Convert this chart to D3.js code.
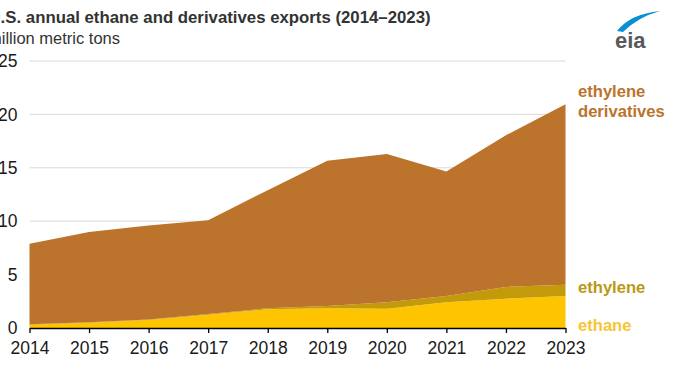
<!DOCTYPE html>
<html>
<head>
<meta charset="utf-8">
<script src="https://cdn.jsdelivr.net/npm/d3@7"></script>
<style>
  body { margin: 0; background: #fff; }
  svg { display: block; font-family: "Liberation Sans", Arial, sans-serif; }
</style>
</head>
<body>
<div id="chart"></div>
<script>
// values, million metric tons
const years = [2014, 2015, 2016, 2017, 2018, 2019, 2020, 2021, 2022, 2023];
const ethane = [0.3, 0.5, 0.75, 1.25, 1.75, 1.85, 1.8, 2.4, 2.75, 3.0];
const ethylene = [0.05, 0.05, 0.05, 0.05, 0.1, 0.2, 0.6, 0.6, 1.1, 1.05];
const derivatives = [7.55, 8.45, 8.8, 8.8, 11.05, 13.6, 13.9, 11.65, 14.2, 16.9];
const yTicks = [0, 5, 10, 15, 20, 25];

const seriesNames = ["ethane", "ethylene", "derivatives"];
const colors = { ethane: "#fec400", ethylene: "#c39a0a", derivatives: "#bc732c" };

const w = 678, h = 371;
const svg = d3.select("#chart").append("svg").attr("width", w).attr("height", h);

const x = d3.scaleLinear().domain([2014, 2023]).range([29.5, 565.5]);
const y = d3.scaleLinear().domain([0, 25]).range([328, 61]);

const rows = years.map((yr, i) => ({
    year: yr, ethane: ethane[i], ethylene: ethylene[i], derivatives: derivatives[i]
}));
const stacked = d3.stack().keys(seriesNames)(rows);

// gridlines
svg.append("g")
    .selectAll("line")
    .data(yTicks.filter(d => d > 0))
    .enter()
    .append("line")
    .attr("x1", x(2014))
    .attr("x2", x(2023))
    .attr("y1", d => y(d))
    .attr("y2", d => y(d))
    .attr("stroke", "#d9d9d9")
    .attr("stroke-width", 1);

const area = d3.area()
    .x(d => x(d.data.year))
    .y0(d => y(d[0]))
    .y1(d => y(d[1]));

svg.append("g")
    .selectAll("path")
    .data(stacked)
    .enter()
    .append("path")
    .attr("d", area)
    .attr("fill", d => colors[d.key]);

// x axis
const xAxis = svg.append("g")
    .attr("transform", `translate(0,${y(0)})`)
    .call(d3.axisBottom(x).tickValues(years).tickFormat(d3.format("d")).tickSize(5).tickSizeOuter(0));
xAxis.select(".domain").attr("stroke", "#000").attr("stroke-width", 1.3);
xAxis.selectAll(".tick line").attr("stroke", "#000").attr("stroke-width", 1.3);
xAxis.selectAll(".tick text")
    .attr("dy", "0.71em")
    .attr("y", 14)
    .attr("fill", "#1a1a1a")
    .style("font-size", "17.5px")
    .style("font-family", "'Liberation Sans', Arial, sans-serif");

// y axis labels
const yAxis = svg.append("g")
    .attr("transform", "translate(29.5,0)")
    .call(d3.axisLeft(y).tickValues(yTicks).tickSize(0).tickPadding(12));
yAxis.select(".domain").remove();
yAxis.selectAll(".tick text")
    .attr("fill", "#1a1a1a")
    .style("font-size", "17.5px")
    .style("font-family", "'Liberation Sans', Arial, sans-serif");

// title and unit (left edge is cropped in the original)
svg.append("text")
    .attr("x", -11.5)
    .attr("y", 23)
    .attr("fill", "#333")
    .style("font-size", "16.8px")
    .style("font-weight", "bold")
    .text("U.S. annual ethane and derivatives exports (2014\u20132023)");

svg.append("text")
    .attr("x", -12)
    .attr("y", 44)
    .attr("fill", "#333")
    .style("font-size", "16.5px")
    .text("million metric tons");

// series labels
const lab = svg.append("g")
    .style("font-size", "16.6px")
    .style("font-weight", "bold");
lab.append("text").attr("x", 578).attr("y", 97).attr("fill", "#bc732c").text("ethylene");
lab.append("text").attr("x", 578).attr("y", 117).attr("fill", "#bc732c").text("derivatives");
lab.append("text").attr("x", 578).attr("y", 293).attr("fill", "#b89a14").text("ethylene");
lab.append("text").attr("x", 578).attr("y", 331).attr("fill", "#f7c535").text("ethane");

// eia logo
const logo = svg.append("g");
logo.append("path")
    .attr("d", "M617,31 Q630,14 660,11 Q638,17 623,32 Z")
    .attr("fill", "#0a8fd4");
logo.append("text")
    .attr("x", 615)
    .attr("y", 48)
    .attr("fill", "#58595b")
    .style("font-size", "22px")
    .style("font-weight", "bold")
    .style("font-family", "'Liberation Sans', Arial, sans-serif")
    .text("eia");
</script>
</body>
</html>
